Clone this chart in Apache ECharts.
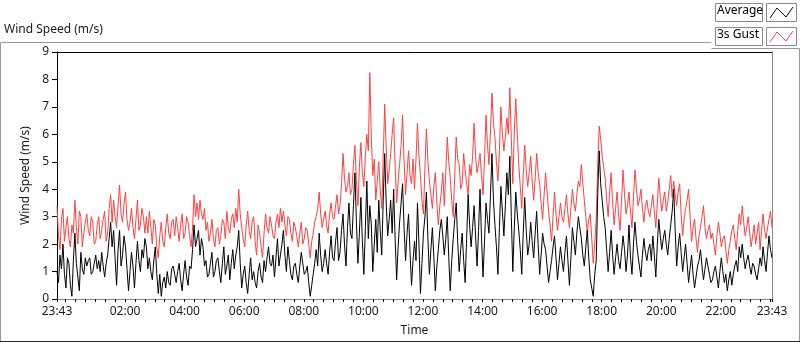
<!DOCTYPE html>
<html>
<head>
<meta charset="utf-8">
<script src="https://cdn.jsdelivr.net/npm/echarts@6/dist/echarts.min.js"></script>
<style>
  html, body { margin: 0; padding: 0; background: #fff; }
  #chart { width: 800px; height: 342px; }
</style>
</head>
<body>
<div id="chart"></div>
<script>
// samples every 3 minutes from 23:43 (minute 0) to 23:43 next day (minute 1440)
// one row per hour

// 3s gust (m/s)
const gust = [
  3.4,2.3,1.8,2.9,3.3,2.1,2.6,3.0,2.2,1.9,2.7,2.4,3.6,2.6,2.0,3.2,3.0,1.9,2.4,2.8,
  3.1,2.5,2.3,3.0,2.8,2.0,2.1,2.7,3.0,2.2,2.5,2.9,3.2,2.1,2.4,3.3,3.8,2.8,3.6,3.0,
  2.6,3.4,4.15,3.1,2.8,3.5,3.9,2.9,2.5,2.8,3.3,2.6,2.2,2.9,3.6,2.5,2.7,3.3,3.0,2.4,
  3.0,2.4,3.2,2.6,2.0,2.9,2.7,1.9,1.5,2.3,2.8,2.1,1.9,2.6,3.1,2.4,2.2,2.8,2.9,2.3,
  3.0,2.6,2.1,2.7,3.1,2.2,2.4,3.0,2.8,2.3,1.9,2.6,3.8,3.0,3.5,2.9,3.6,3.1,2.9,3.3,
  2.5,2.8,2.1,2.4,2.9,2.2,1.9,2.5,2.6,2.0,2.3,2.9,2.8,2.2,3.2,2.6,2.4,2.9,3.1,2.6,
  3.3,2.8,4.0,3.1,2.6,2.2,1.9,2.7,3.2,2.5,2.2,2.8,3.0,2.1,1.6,2.7,2.4,1.9,1.5,2.4,
  3.1,2.6,2.4,3.0,2.7,2.3,2.2,2.8,3.1,2.6,3.3,2.8,3.2,2.7,2.3,3.0,2.9,2.4,2.1,2.8,
  2.6,2.3,1.9,2.4,2.8,2.0,2.2,2.6,2.5,2.0,1.5,2.1,2.4,2.8,3.0,3.3,3.9,3.1,2.6,2.9,
  3.2,2.7,2.4,3.1,3.5,3.0,2.9,3.4,3.8,3.1,3.4,4.2,5.3,4.4,3.9,4.1,4.6,3.8,4.0,4.9,
  5.6,4.3,3.4,4.8,5.7,4.6,4.1,5.2,6.0,5.4,8.25,5.9,4.5,5.1,3.6,4.3,5.0,4.0,3.3,5.2,
  7.1,5.5,4.2,4.7,5.3,6.0,6.6,4.8,3.5,4.3,4.9,5.6,6.7,5.0,3.8,4.6,5.4,4.5,4.2,5.1,
  4.0,5.1,6.4,5.2,4.5,3.6,3.1,4.8,6.2,5.0,4.3,3.8,3.3,4.1,4.6,3.5,2.7,3.4,3.9,4.6,
  3.4,4.6,5.9,5.0,4.4,3.6,3.0,4.5,5.9,5.1,4.9,4.0,4.2,5.3,4.7,4.2,3.8,4.9,4.5,5.2,
  6.4,5.2,4.6,4.9,5.3,4.5,3.8,5.1,6.7,5.6,4.9,6.1,7.5,6.4,5.9,5.0,4.3,5.4,7.0,6.0,
  5.4,5.9,6.6,6.0,7.7,5.8,4.2,6.1,7.3,6.0,4.9,4.1,3.3,4.5,5.6,4.7,4.1,4.6,5.2,4.3,
  3.6,4.4,5.3,4.6,4.2,3.5,2.9,3.8,4.6,3.9,3.2,2.7,2.1,3.0,3.9,3.1,2.5,3.0,3.5,3.0,
  2.8,3.3,3.8,3.1,2.6,3.3,4.0,3.5,3.2,3.8,4.3,4.1,4.9,4.2,3.6,3.0,2.4,2.9,3.1,2.2,
  1.3,2.0,2.9,4.9,6.3,5.8,5.2,4.8,4.4,3.6,3.0,3.9,4.6,3.5,2.7,3.3,3.9,3.1,2.5,3.6,
  4.7,3.8,3.1,3.4,3.9,3.2,2.6,3.7,4.7,4.0,3.4,3.6,4.0,3.3,2.8,3.4,3.6,3.2,3.0,3.4,
  3.8,3.2,2.6,3.5,4.4,3.7,3.2,3.6,3.9,3.2,3.5,4.0,4.5,3.7,4.3,3.8,3.4,3.9,4.2,3.1,
  2.3,2.9,3.3,3.6,4.0,3.0,2.1,2.6,2.9,2.2,1.7,2.3,2.6,3.0,3.4,2.6,2.2,2.5,2.7,2.2,
  2.4,2.0,1.6,2.3,2.8,2.4,1.9,2.2,2.3,1.8,1.3,1.8,2.1,2.5,2.7,2.2,1.8,2.5,3.1,2.7,
  3.4,2.8,2.3,2.6,3.0,2.4,1.9,2.3,2.7,2.0,2.4,2.8,1.8,2.5,3.1,2.5,2.2,2.6,2.9,3.2,
  2.6
]

// average wind speed (m/s)
const average = [
  1.0,0.6,1.6,1.1,2.0,0.9,0.4,1.5,1.3,0.5,0.1,1.4,2.4,1.3,0.8,0.3,1.7,1.1,0.9,1.5,
  1.2,1.4,1.5,0.9,1.0,1.3,1.6,1.1,1.4,1.0,1.7,1.2,0.8,1.3,1.6,2.2,2.8,1.9,2.5,1.5,
  0.5,1.8,2.5,1.2,1.6,2.3,1.9,1.1,0.3,1.0,1.7,1.2,0.4,1.3,2.1,1.4,1.0,1.8,1.5,2.2,
  1.9,1.1,1.5,1.0,0.7,1.4,1.9,0.9,0.2,0.9,0.1,0.6,0.8,0.4,1.0,0.6,0.5,1.1,1.2,0.9,
  0.6,1.0,1.3,0.7,0.3,0.9,1.4,0.8,0.5,1.2,1.1,1.8,2.7,1.9,2.2,2.5,1.6,2.2,1.9,1.2,
  1.4,0.8,0.9,1.3,1.7,0.8,1.0,1.4,1.5,1.0,0.6,1.3,1.9,0.9,1.2,1.6,0.7,1.3,1.8,1.1,
  1.6,1.9,2.5,1.3,0.4,0.9,1.2,0.6,0.2,0.9,1.5,0.7,1.0,0.6,0.4,1.0,1.3,0.8,0.6,1.4,
  1.0,1.5,1.9,1.3,1.2,1.6,0.8,1.5,2.2,1.2,1.6,2.0,2.5,1.6,1.0,1.9,1.4,0.9,0.7,1.2,
  1.3,0.9,0.6,1.2,1.7,1.3,0.9,1.0,1.2,0.6,0.1,0.5,0.9,1.3,1.8,1.2,2.4,1.6,1.0,1.3,
  1.8,1.3,0.9,1.7,2.3,1.5,1.4,2.1,2.6,1.4,1.7,2.5,3.1,2.0,1.2,2.6,3.5,2.4,2.2,3.4,
  4.6,2.8,1.3,2.4,3.7,2.1,0.9,2.6,4.3,2.2,3.4,2.7,1.0,2.0,2.9,1.7,3.6,2.5,1.6,3.6,
  5.3,3.5,2.3,2.9,3.6,2.4,4.0,2.2,0.7,1.9,2.8,3.5,4.2,2.6,1.4,2.4,3.1,1.7,0.5,1.4,
  2.1,1.4,3.5,2.0,0.2,1.3,2.4,3.0,3.9,2.2,0.9,1.8,2.6,1.5,0.3,1.2,1.8,2.5,2.9,2.3,
  1.6,2.2,3.0,1.5,0.3,1.4,2.2,2.9,3.5,2.1,1.0,1.8,2.4,1.4,0.6,2.2,3.8,2.7,1.9,2.6,
  3.4,2.3,1.2,2.5,4.0,2.2,0.8,2.1,3.5,2.9,2.4,3.8,5.3,3.6,2.7,1.9,0.9,2.6,4.1,3.2,
  2.3,3.4,4.6,3.8,5.2,3.0,1.0,2.6,3.9,3.1,2.5,1.8,0.9,2.4,3.7,2.5,1.6,2.0,2.8,2.1,
  1.5,2.4,3.2,2.0,0.9,1.6,2.4,2.0,1.8,1.2,0.6,1.0,1.4,1.9,2.3,1.5,0.7,1.3,1.9,1.4,
  1.0,1.7,2.3,1.4,0.5,1.5,2.6,2.1,1.6,2.4,3.0,2.6,2.2,1.6,1.2,1.9,2.5,1.5,0.7,0.4,
  0.1,0.9,1.4,3.8,5.4,4.2,3.6,3.0,2.6,1.8,1.0,1.7,2.5,1.6,0.9,1.5,2.0,1.4,1.1,1.7,
  2.3,1.8,1.0,1.6,2.7,1.5,0.9,2.0,2.8,2.1,1.6,1.2,0.8,1.6,2.2,1.7,1.4,1.8,2.0,1.4,
  2.3,1.6,0.8,2.0,2.9,2.3,1.8,2.2,2.5,2.0,1.6,2.2,2.7,3.2,4.0,2.5,1.2,1.9,2.4,1.7,
  1.0,1.5,2.0,1.3,0.6,1.1,1.6,0.9,0.4,0.8,1.2,1.4,1.8,1.2,0.7,1.1,1.5,1.2,0.9,0.6,
  0.7,1.0,1.2,0.8,0.4,1.0,1.5,1.0,0.6,0.9,0.3,0.7,1.0,0.5,0.9,1.2,1.4,1.0,1.9,1.5,
  2.0,1.5,1.1,1.4,1.6,1.2,0.9,1.3,1.2,0.9,0.7,1.1,1.5,1.2,1.9,1.4,1.0,1.7,2.3,1.8,
  1.5
]

// x axis labels (minutes after 23:43)
const labelMinutes = [0, 137, 257, 377, 497, 617, 737, 857, 977, 1097, 1217, 1337, 1440]
const labelTexts = ['23:43', '02:00', '04:00', '06:00', '08:00', '10:00', '12:00', '14:00', '16:00', '18:00', '20:00', '22:00', '23:43']
const yTicks = [0, 1, 2, 3, 4, 5, 6, 7, 8, 9]

const spanMinutes = 1440
const minutesOf = arr => arr.map((_, i) => i * spanMinutes / (arr.length - 1))
const labelMap = {}
labelMinutes.forEach((m, i) => { labelMap[m] = labelTexts[i] })

// small ticks every 20 minutes (aligned to the hour labels)
const xTicks = [0]
for (let m = 17; m <= 1440; m += 20) xTicks.push(m)
xTicks.push(1440)

const FONT = '"Noto Sans", "Open Sans", sans-serif'
const txt = '#1a1a1a'

const chart = echarts.init(document.getElementById('chart'))

const option = {
  animation: false,
  backgroundColor: '#fff',
  grid: { left: 57, right: 28, top: 52, bottom: 39 },
  xAxis: [
    {
      type: 'value',
      min: 0,
      max: spanMinutes,
      name: 'Time',
      nameLocation: 'middle',
      nameGap: 26,
      nameTextStyle: { fontFamily: FONT, fontSize: 12, color: txt },
      axisLine: { show: true, lineStyle: { color: '#8a8a8a', width: 1 } },
      axisTick: { show: true, customValues: xTicks, length: 3, lineStyle: { color: '#000' } },
      axisLabel: {
        customValues: labelMinutes,
        formatter: v => labelMap[v] || '',
        fontFamily: FONT, fontSize: 12, color: txt, margin: 7
      },
      splitLine: { show: false }
    },
    {
      type: 'value', position: 'top', min: 0, max: spanMinutes,
      axisLine: { show: true, onZero: false, lineStyle: { color: '#000', width: 1 } },
      axisTick: { show: false }, axisLabel: { show: false }, splitLine: { show: false }
    }
  ],
  yAxis: [
    {
      type: 'value',
      min: 0,
      max: 9,
      interval: 1,
      name: 'Wind Speed (m/s)',
      nameLocation: 'middle',
      nameGap: 22,
      nameTextStyle: { fontFamily: FONT, fontSize: 12, color: txt },
      axisLine: { show: true, lineStyle: { color: '#000', width: 1 } },
      axisTick: { show: true, length: 5, lineStyle: { color: '#000' } },
      axisLabel: {
        customValues: yTicks,
        fontFamily: FONT, fontSize: 12, color: txt, margin: 8
      },
      splitLine: { show: false }
    },
    {
      type: 'value', position: 'right', min: 0, max: 9,
      axisLine: { show: true, onZero: false, lineStyle: { color: '#8a8a8a', width: 1 } },
      axisTick: { show: false }, axisLabel: { show: false }, splitLine: { show: false }
    }
  ],
  series: [
    {
      name: '3s Gust',
      type: 'line',
      data: minutesOf(gust).map((m, i) => [m, gust[i]]),
      showSymbol: false,
      lineStyle: { color: '#ff4040', width: 1 },
      itemStyle: { color: '#ff4040' },
      z: 2
    },
    {
      name: 'Average',
      type: 'line',
      data: minutesOf(average).map((m, i) => [m, average[i]]),
      showSymbol: false,
      lineStyle: { color: '#000', width: 1 },
      itemStyle: { color: '#000' },
      z: 3
    }
  ],
  graphic: [
    // panel title
    { type: 'text', left: 4, top: 24, style: { text: 'Wind Speed (m/s)', fontFamily: FONT, fontSize: 12, fill: txt } },
    // outer panel frame
    { type: 'polyline', shape: { points: [[0.5, 341.5], [0.5, 42.5], [711.5, 42.5]] }, style: { stroke: '#9a9a9a', fill: null, lineWidth: 1 }, silent: true },
    { type: 'polyline', shape: { points: [[711.5, 48.5], [799.5, 48.5], [799.5, 341.5]] }, style: { stroke: '#9a9a9a', fill: null, lineWidth: 1 }, silent: true },
    { type: 'line', shape: { x1: 0, y1: 341.5, x2: 800, y2: 341.5 }, style: { stroke: '#222', lineWidth: 1 }, silent: true },
    // legend boxes
    { type: 'rect', shape: { x: 715.5, y: 3.5, width: 47, height: 18 }, style: { fill: '#fff', stroke: '#8a8a8a', lineWidth: 1 } },
    { type: 'text', left: 717, top: 5, style: { text: 'Average', fontFamily: FONT, fontSize: 12, fill: '#000' } },
    { type: 'rect', shape: { x: 766.5, y: 3.5, width: 30, height: 18 }, style: { fill: '#fff', stroke: '#8a8a8a', lineWidth: 1 } },
    { type: 'polyline', shape: { points: [[770, 18], [777, 8], [786, 17], [793, 7]] }, style: { stroke: '#000', fill: null, lineWidth: 1 } },
    { type: 'rect', shape: { x: 715.5, y: 27.5, width: 47, height: 18 }, style: { fill: '#fff', stroke: '#8a8a8a', lineWidth: 1 } },
    { type: 'text', left: 717, top: 29, style: { text: '3s Gust', fontFamily: FONT, fontSize: 12, fill: '#000' } },
    { type: 'rect', shape: { x: 766.5, y: 27.5, width: 30, height: 18 }, style: { fill: '#fff', stroke: '#8a8a8a', lineWidth: 1 } },
    { type: 'polyline', shape: { points: [[770, 42], [777, 32], [786, 41], [793, 31]] }, style: { stroke: '#ff4040', fill: null, lineWidth: 1 } }
  ]
}

chart.setOption(option)
window.addEventListener('resize', () => chart.resize())
</script>
</body>
</html>
